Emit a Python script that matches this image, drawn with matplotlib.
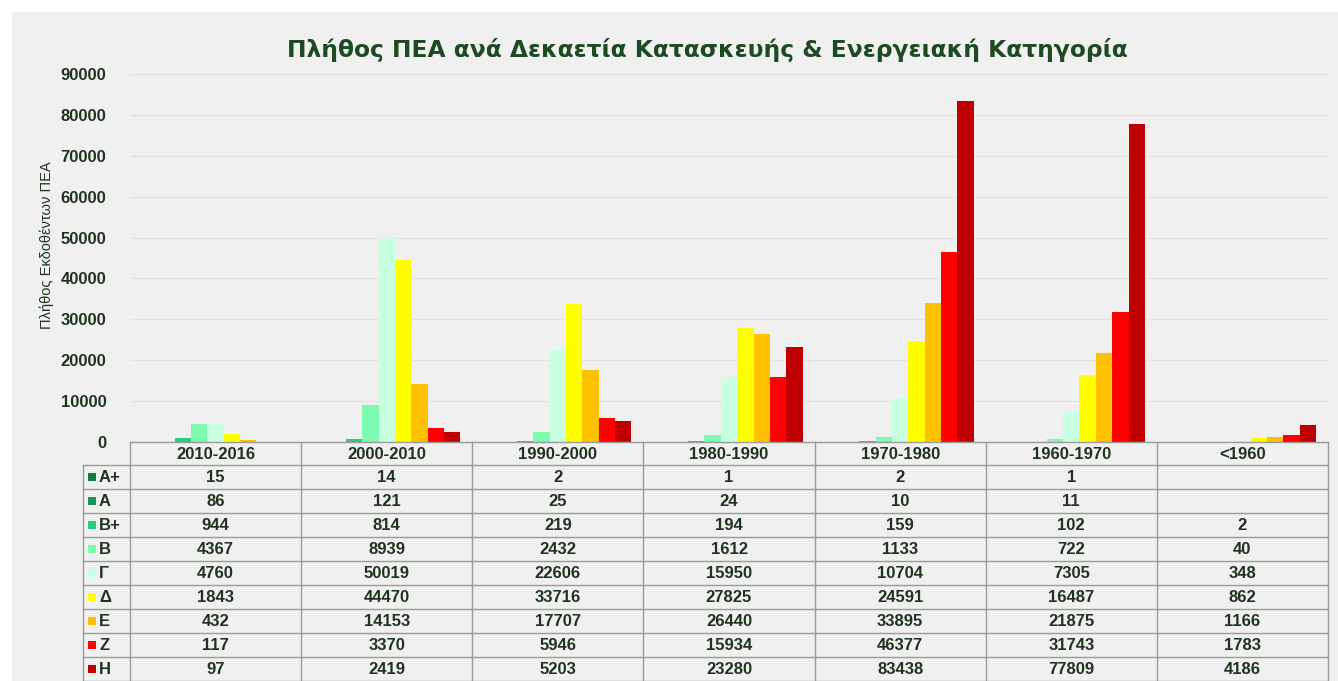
import numpy as np
import matplotlib
matplotlib.use("Agg")
import matplotlib.pyplot as plt
from matplotlib.patches import Rectangle

plt.rcParams["font.family"] = ["Liberation Sans", "DejaVu Sans"]

# Data.
decades = ["2010-2016", "2000-2010", "1990-2000", "1980-1990",
           "1970-1980", "1960-1970", "<1960"]
classes = ["Α+", "Α", "Β+", "Β", "Γ", "Δ", "Ε", "Ζ", "Η"]
nan = np.nan
a_plus = [15, 14, 2, 1, 2, 1, nan]
a = [86, 121, 25, 24, 10, 11, nan]
b_plus = [944, 814, 219, 194, 159, 102, 2]
b = [4367, 8939, 2432, 1612, 1133, 722, 40]
gamma = [4760, 50019, 22606, 15950, 10704, 7305, 348]
delta = [1843, 44470, 33716, 27825, 24591, 16487, 862]
epsilon = [432, 14153, 17707, 26440, 33895, 21875, 1166]
zeta = [117, 3370, 5946, 15934, 46377, 31743, 1783]
eta = [97, 2419, 5203, 23280, 83438, 77809, 4186]
series = [a_plus, a, b_plus, b, gamma, delta, epsilon, zeta, eta]

colors = ["#137a45", "#1b9156", "#2bcf7b", "#7dfbb0", "#c8ffe0",
          "#ffff00", "#ffc000", "#ff0000", "#c00000"]

title = "Πλήθος ΠΕΑ ανά Δεκαετία Κατασκευής & Ενεργειακή Κατηγορία"
ylabel = "Πλήθος Εκδοθέντων ΠΕΑ"

TXT = "#1f331f"
GRID = "#e2e2e2"
LINE = "#9a9a9a"
W, H = 1338, 681

fig = plt.figure(figsize=(W / 100, H / 100), dpi=100)
fig.patch.set_facecolor("white")
fig.patches.append(Rectangle((12 / W, 0), 1 - 12 / W, 1 - 12 / H,
                             transform=fig.transFigure, color="#f0f0f0",
                             zorder=-10))

# bar panel
x0, x1 = 130, 1328
y_top, y_zero = 74, 442
ax = fig.add_axes([x0 / W, 1 - y_zero / H, (x1 - x0) / W, (y_zero - y_top) / H])
ax.set_facecolor("none")
ax.set_xlim(-0.5, len(decades) - 0.5)
ax.set_ylim(0, 90000)
ax.set_yticks(np.arange(0, 90001, 10000))
ax.tick_params(axis="y", length=0, pad=17, labelsize=12, labelcolor=TXT)
for lbl in ax.get_yticklabels():
    lbl.set_fontweight("bold")
ax.set_xticks([])
for sp in ax.spines.values():
    sp.set_visible(False)
ax.yaxis.grid(True, color=GRID, lw=1)
ax.set_axisbelow(True)

n = len(series)
bw = 0.86 / n
xs = np.arange(len(decades))
for k, (vals, col) in enumerate(zip(series, colors)):
    off = (k - (n - 1) / 2) * bw
    ax.bar(xs + off, vals, width=bw, color=col, lw=0, zorder=2)

fig.text(707 / W, 1 - 50 / H, title, ha="center", va="center",
         fontsize=16.8, fontweight="bold", color="#1e4a23",
         family="DejaVu Sans")
fig.text(47 / W, 1 - 245 / H, ylabel, ha="center", va="center",
         rotation=90, fontsize=10.5, color=TXT, fontweight="medium")

# data table under the bars
lab_x = 83
tab = fig.add_axes([lab_x / W, 0, (x1 - lab_x) / W, (H - y_zero) / H])
tab.set_axis_off()
cw = (x1 - x0) / len(decades)
lw_units = (x0 - lab_x) / cw
tab.set_xlim(-lw_units, len(decades))
hdr, rh = 23, 24
bottom = hdr + rh * len(classes)
tab.set_ylim(bottom, 0)

kw = dict(color=LINE, lw=1, clip_on=False)
tab.plot([0, len(decades)], [0, 0], **kw)
for r in range(len(classes) + 1):
    y = hdr + r * rh
    tab.plot([-lw_units, len(decades)], [y, y], **kw)
for c in range(len(decades) + 1):
    tab.plot([c, c], [0, bottom], **kw)
tab.plot([-lw_units, -lw_units], [hdr, bottom], **kw)

for c, d in enumerate(decades):
    tab.text(c + 0.5, hdr / 2 + 1, d, ha="center", va="center",
             fontsize=12, fontweight="bold", color=TXT)
for r, (cls, vals, col) in enumerate(zip(classes, series, colors)):
    yc = hdr + r * rh + rh / 2
    tab.add_patch(Rectangle((-lw_units + 5 / cw, yc - 4), 8 / cw, 8,
                            color=col, lw=0, clip_on=False))
    tab.text(-lw_units + 16 / cw, yc, cls, ha="left", va="center",
             fontsize=12, fontweight="bold", color=TXT)
    for c, v in enumerate(vals):
        if np.isnan(v):
            continue
        tab.text(c + 0.5, yc, f"{int(v)}", ha="center", va="center",
                 fontsize=12, fontweight="bold", color=TXT)

fig.savefig("out.png", dpi=100)
